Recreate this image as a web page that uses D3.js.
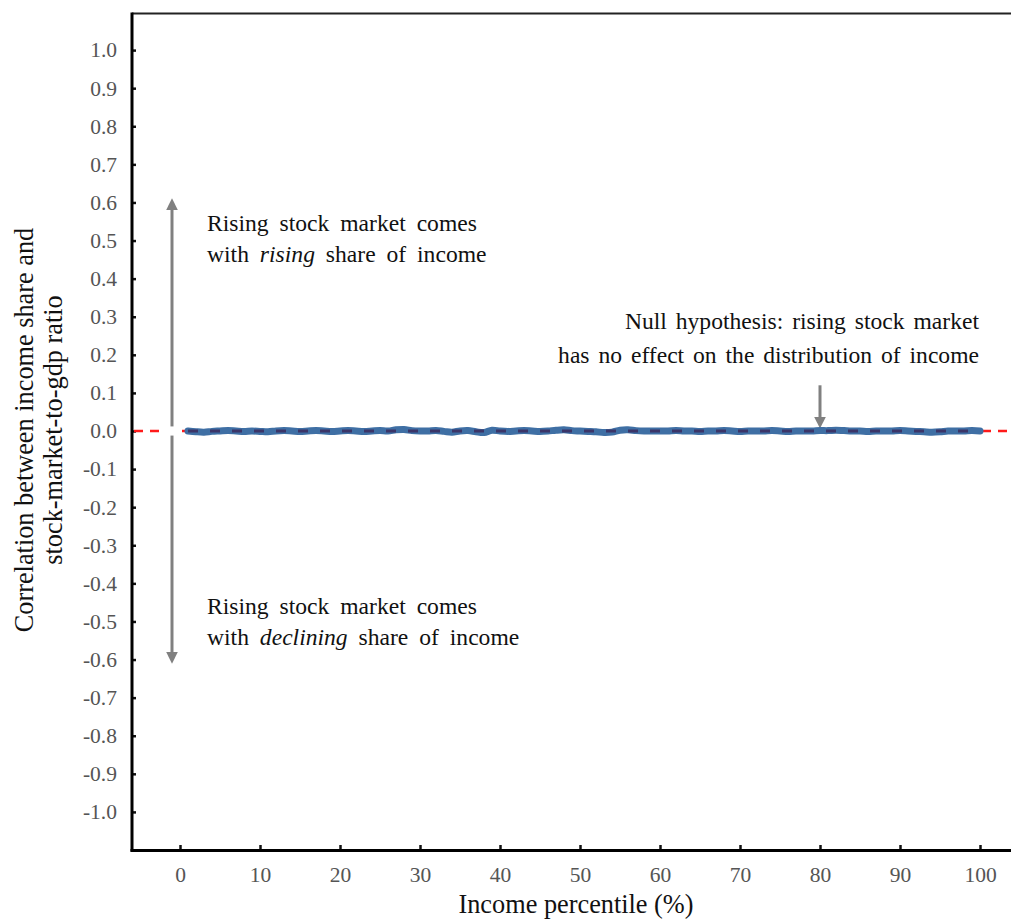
<!DOCTYPE html>
<html><head><meta charset="utf-8">
<script src="https://cdn.jsdelivr.net/npm/d3@7"></script>
<style>
html,body{margin:0;padding:0;background:#fff;}
</style></head>
<body><svg id="c" width="1011" height="920"></svg>
<script>
// Data
const percentiles = d3.range(1, 101);
const correlation = [
 0.000,-0.002,-0.003,-0.001,0.000,0.001,0.000,-0.001,0.000,-0.001,
 -0.002,0.000,0.001,0.000,-0.001,0.000,0.001,0.000,-0.001,0.000,
 0.001,0.000,-0.001,0.000,0.001,0.000,0.003,0.004,0.001,0.000,
 0.000,0.001,-0.001,-0.003,0.000,0.001,-0.002,-0.004,0.002,0.000,
 -0.001,0.000,0.001,0.000,-0.001,0.000,0.002,0.003,0.001,0.000,
 -0.001,-0.002,-0.004,-0.003,0.002,0.003,0.001,0.000,0.000,0.000,
 0.000,0.001,0.000,0.000,-0.001,0.000,0.000,0.001,0.000,-0.001,
 0.000,0.000,0.000,0.001,0.000,-0.001,0.000,0.000,0.000,0.001,
 0.001,0.002,0.001,0.000,0.000,-0.001,0.000,0.000,0.000,0.001,
 0.000,-0.001,-0.002,-0.003,-0.002,0.000,0.000,0.000,0.001,0.000
];
const yTicks = [1.0,0.9,0.8,0.7,0.6,0.5,0.4,0.3,0.2,0.1,0.0,-0.1,-0.2,-0.3,-0.4,-0.5,-0.6,-0.7,-0.8,-0.9,-1.0];
const xTicks = [0,10,20,30,40,50,60,70,80,90,100];

// pick an installed serif font
function hasFont(name) {
  const c = document.createElement("canvas").getContext("2d");
  const s = "Rising stock market comes WwIl1.0";
  c.font = "40px monospace"; const a = c.measureText(s).width;
  c.font = `40px "${name}", monospace`; const b = c.measureText(s).width;
  c.font = "40px sans-serif"; const a2 = c.measureText(s).width;
  c.font = `40px "${name}", sans-serif`; const b2 = c.measureText(s).width;
  return a !== b || a2 !== b2;
}
const candidates = ["Liberation Serif", "Times New Roman", "Tinos", "Nimbus Roman", "DejaVu Serif", "Noto Serif"];
const FONT = (candidates.find(hasFont) || "serif");
const FF = `"${FONT}", serif`;

const svg = d3.select("#c").style("font-family", FF);
const x = d3.scaleLinear().domain([-6, 104]).range([132, 1012]);
const y = d3.scaleLinear().domain([-1.1, 1.1]).range([850, 12]);
const fmt = d => d3.format(".1f")(d).replace("\u2212", "-");

// top border
svg.append("line").attr("x1", 132).attr("x2", 1011).attr("y1", 13.5).attr("y2", 13.5)
  .attr("stroke", "#222").attr("stroke-width", 2);

// y axis
const ya = svg.append("g").attr("transform", "translate(132,0)")
  .call(d3.axisRight(y).tickValues(yTicks).tickSize(4).tickFormat(fmt));
ya.attr("font-family", FF);
ya.select(".domain").remove();
ya.selectAll(".tick line").attr("stroke", "#111").attr("stroke-width", 2.5);
ya.selectAll(".tick text").attr("x", -15).attr("text-anchor", "end")
  .attr("font-size", 21.5).attr("fill", "#555");
svg.append("line").attr("x1", 132).attr("x2", 132).attr("y1", 12.5).attr("y2", 851.5)
  .attr("stroke", "#000").attr("stroke-width", 3);

// x axis
const xa = svg.append("g").attr("transform", "translate(0,850)")
  .call(d3.axisTop(x).tickValues(xTicks).tickSize(5));
xa.attr("font-family", FF);
xa.select(".domain").remove();
xa.selectAll(".tick line").attr("stroke", "#111").attr("stroke-width", 2.5);
xa.selectAll(".tick text").attr("y", 32).attr("dy", 0)
  .attr("font-size", 21.5).attr("fill", "#555");
svg.append("line").attr("x1", 130.5).attr("x2", 1011).attr("y1", 850.5).attr("y2", 850.5)
  .attr("stroke", "#000").attr("stroke-width", 3);

// axis titles
svg.append("text").attr("x", 576).attr("y", 913).attr("text-anchor", "middle")
  .attr("font-size", 26.3).attr("fill", "#111").text("Income percentile (%)");
const yt = svg.append("text").attr("transform", "translate(0,430) rotate(-90)")
  .attr("text-anchor", "middle").attr("font-size", 26.3).attr("fill", "#111");
yt.append("tspan").attr("x", 0).attr("y", 33).text("Correlation between income share and");
yt.append("tspan").attr("x", 0).attr("y", 62).text("stock-market-to-gdp ratio");

// red null line
svg.append("line").attr("x1", 134).attr("x2", 1011).attr("y1", y(0)).attr("y2", y(0))
  .attr("stroke", "#ff1a1a").attr("stroke-width", 2.5).attr("stroke-dasharray", "9,7");

// arrows
const defs = svg.append("defs");
defs.append("marker").attr("id", "ah").attr("viewBox", "0 0 10 10").attr("refX", 5).attr("refY", 5)
  .attr("markerWidth", 4).attr("markerHeight", 4).attr("orient", "auto")
  .append("path").attr("d", "M0,0 L10,5 L0,10 z").attr("fill", "#808080");
svg.append("rect").attr("x", 160).attr("y", y(0) - 4).attr("width", 22).attr("height", 8).attr("fill", "#fff");
const ax = 172;
svg.append("line").attr("x1", ax).attr("x2", ax).attr("y1", y(0.012)).attr("y2", y(0.595))
  .attr("stroke", "#808080").attr("stroke-width", 3).attr("marker-end", "url(#ah)");
svg.append("line").attr("x1", ax).attr("x2", ax).attr("y1", y(-0.012)).attr("y2", y(-0.595))
  .attr("stroke", "#808080").attr("stroke-width", 3).attr("marker-end", "url(#ah)");
svg.append("line").attr("x1", x(80)).attr("x2", x(80)).attr("y1", y(0.12)).attr("y2", y(0.022))
  .attr("stroke", "#808080").attr("stroke-width", 3).attr("marker-end", "url(#ah)");

// data line
const line = d3.line().x((d, i) => x(percentiles[i])).y(d => y(d)).curve(d3.curveCatmullRom);
svg.append("path").datum(correlation).attr("d", line).attr("fill", "none")
  .attr("stroke", "#3f6fa4").attr("stroke-width", 7).attr("stroke-linecap", "round").attr("stroke-linejoin", "round");
svg.append("line").attr("x1", x(1)).attr("x2", x(100)).attr("y1", y(0)).attr("y2", y(0))
  .attr("stroke", "#3b3568").attr("stroke-width", 3).attr("stroke-dasharray", "10,12");

// annotations
function para(xp, yp, dy, anchor, ws, lines) {
  const t = svg.append("text").attr("text-anchor", anchor).attr("font-size", 23.6)
    .attr("fill", "#111").style("word-spacing", ws + "px");
  lines.forEach((parts, i) => {
    const ts = t.append("tspan").attr("x", xp).attr("y", yp + i * dy);
    parts.forEach(p => ts.append("tspan").attr("font-style", p.i ? "italic" : "normal").text(p.t));
  });
}
para(207, 231, 31, "start", 5, [[{t:"Rising stock market comes"}], [{t:"with "},{t:"rising",i:1},{t:" share of income"}]]);
para(207, 614, 31, "start", 5, [[{t:"Rising stock market comes"}], [{t:"with "},{t:"declining",i:1},{t:" share of income"}]]);
para(979, 329, 34, "end", 3, [[{t:"Null hypothesis: rising stock market"}], [{t:"has no effect on the distribution of income"}]]);
</script></body></html>
